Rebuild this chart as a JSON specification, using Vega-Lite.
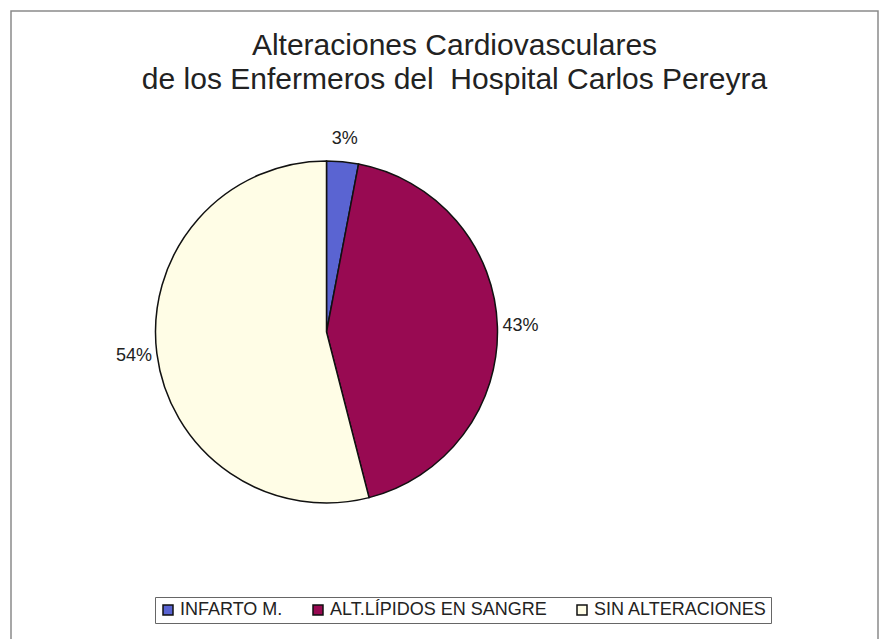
{
  "$schema": "https://vega.github.io/schema/vega-lite/v6.json",
  "autosize": "none",
  "width": 867,
  "height": 631,
  "padding": {"left": 11, "top": 11, "right": 2, "bottom": 0},
  "background": "#ffffff",
  "view": {"stroke": "#8a8a8a", "strokeWidth": 1.5},
  "config": {
    "view": {"stroke": "#8a8a8a", "strokeWidth": 1.5},
    "font": "Liberation Sans"
  },
  "title": {
    "text": ["Alteraciones Cardiovasculares", "de los Enfermeros del \u00a0Hospital Carlos Pereyra"],
    "orient": "top",
    "anchor": "middle",
    "frame": "group",
    "offset": 0,
    "baseline": "alphabetic",
    "dx": 10,
    "dy": 108,
    "lineHeight": 34,
    "font": "Liberation Sans",
    "fontSize": 30,
    "fontWeight": "normal",
    "color": "#222222"
  },
  "data": {
    "values": [
      {"categoria": "INFARTO M.", "valor": 3, "orden": 1, "etiqueta": "3%"},
      {"categoria": "ALT.LÍPIDOS EN SANGRE", "valor": 43, "orden": 2, "etiqueta": "43%"},
      {"categoria": "SIN ALTERACIONES", "valor": 54, "orden": 3, "etiqueta": "54%"}
    ]
  },
  "layer": [
    {
      "mark": {"type": "arc", "radius": 171, "stroke": "#111111", "strokeWidth": 1.5, "xOffset": -118, "yOffset": 5.5},
      "encoding": {
        "theta": {"field": "valor", "type": "quantitative", "stack": true},
        "order": {"field": "orden", "type": "quantitative"},
        "color": {
          "field": "categoria",
          "type": "nominal",
          "scale": {
            "domain": ["INFARTO M.", "ALT.LÍPIDOS EN SANGRE", "SIN ALTERACIONES"],
            "range": ["#5a64d2", "#980a52", "#fffde6"]
          },
          "legend": {
            "title": null,
            "orient": "none",
            "legendX": 144,
            "legendY": 586,
            "direction": "horizontal",
            "columns": 3,
            "strokeColor": "#666666",
            "padding": 4,
            "symbolType": "square",
            "symbolSize": 100,
            "symbolStrokeColor": "#111111",
            "symbolStrokeWidth": 1.5,
            "symbolOpacity": 1,
            "labelFont": "Liberation Sans",
            "labelFontSize": 18,
            "labelColor": "#222222",
            "labelLimit": 400,
            "labelOffset": 3,
            "columnPadding": 26
          }
        }
      }
    },
    {
      "mark": {"type": "text", "radius": 194, "font": "Liberation Sans", "fontSize": 18, "color": "#222222", "xOffset": -118, "yOffset": 5.5},
      "encoding": {
        "theta": {"field": "valor", "type": "quantitative", "stack": true},
        "order": {"field": "orden", "type": "quantitative"},
        "text": {"field": "etiqueta", "type": "nominal"}
      }
    }
  ]
}
